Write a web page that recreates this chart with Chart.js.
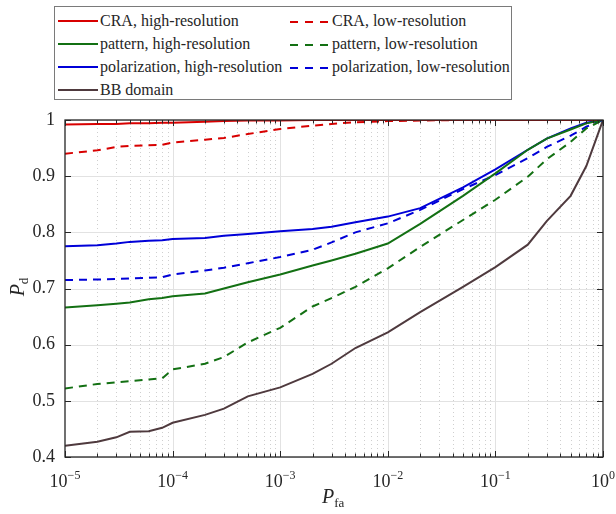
<!DOCTYPE html>
<html><head><meta charset="utf-8">
<script src="https://cdn.jsdelivr.net/npm/chart.js@4/dist/chart.umd.min.js"></script>
<style>
html,body{margin:0;padding:0;background:#fff;}
#wrap{position:relative;width:616px;height:514px;font-family:"Liberation Serif","Times New Roman",serif;color:#262626;}
#legend{position:absolute;left:54px;top:6px;width:456px;height:92px;border:1.5px solid #7a7a7a;background:#fff;}
.item{position:absolute;font-size:16px;line-height:18px;white-space:nowrap;font-family:"Liberation Serif",serif;}
.sample{position:absolute;top:8px;width:40px;height:0;border-top-width:2px;}
.txt{position:absolute;left:42px;top:0;}
.ylab{position:absolute;left:4px;top:274px;transform:rotate(-90deg);transform-origin:center;font-size:20px;width:30px;text-align:center;}
.xlab{position:absolute;left:322px;top:485px;font-size:20px;}
i{font-style:italic;}
sub{font-size:13px;vertical-align:-4px;font-style:normal;}
</style></head>
<body>
<div id="wrap">
<canvas id="c" width="616" height="514"></canvas>
<div id="legend"></div>
<div class="ylab"><i>P</i><sub>d</sub></div>
<div class="xlab"><i>P</i><sub>fa</sub></div>
</div>
<script>
const pfa = [1e-5,2e-5,3e-5,4e-5,6e-5,8e-5,1e-4,2e-4,3e-4,5e-4,1e-3,2e-3,3e-3,5e-3,1e-2,2e-2,5e-2,1e-1,2e-1,3e-1,5e-1,7e-1,1];
const craHigh = [0.992,0.993,0.993,0.994,0.994,0.995,0.995,0.997,0.998,0.999,0.999,1,1,1,1,1,1,1,1,1,1,1,1];
const craLow = [0.940,0.946,0.952,0.954,0.955,0.956,0.960,0.965,0.968,0.975,0.984,0.990,0.993,0.996,0.998,0.999,1,1,1,1,1,1,1];
const patHigh = [0.666,0.670,0.673,0.675,0.681,0.683,0.686,0.691,0.700,0.711,0.725,0.741,0.750,0.762,0.780,0.815,0.865,0.905,0.947,0.967,0.983,0.994,1.0];
const patLow = [0.522,0.530,0.533,0.535,0.538,0.540,0.556,0.566,0.578,0.604,0.630,0.668,0.683,0.703,0.736,0.774,0.822,0.858,0.899,0.930,0.961,0.985,1.0];
const polHigh = [0.775,0.777,0.780,0.783,0.785,0.786,0.788,0.790,0.794,0.797,0.802,0.806,0.810,0.818,0.828,0.843,0.880,0.912,0.947,0.967,0.985,0.995,1.0];
const polLow = [0.715,0.716,0.717,0.718,0.719,0.720,0.725,0.732,0.737,0.745,0.756,0.769,0.782,0.800,0.816,0.840,0.877,0.902,0.932,0.952,0.972,0.988,1.0];
const bbDomain = [0.420,0.427,0.435,0.445,0.446,0.452,0.461,0.475,0.486,0.508,0.524,0.548,0.566,0.594,0.622,0.658,0.703,0.738,0.778,0.820,0.865,0.918,1.0];
const yTicks = [0.4,0.5,0.6,0.7,0.8,0.9,1];
const xExponents = [-5,-4,-3,-2,-1,0];

const RED='#d80000', GREEN='#137013', BLUE='#0000d8', BROWN='#4f3a3e';
const FONT='"Liberation Serif", "Times New Roman", serif';
const series = [
  {label:'CRA, high-resolution', data:craHigh, color:RED, dash:[]},
  {label:'CRA, low-resolution', data:craLow, color:RED, dash:[8,6]},
  {label:'pattern, high-resolution', data:patHigh, color:GREEN, dash:[]},
  {label:'pattern, low-resolution', data:patLow, color:GREEN, dash:[8,6]},
  {label:'polarization, high-resolution', data:polHigh, color:BLUE, dash:[]},
  {label:'polarization, low-resolution', data:polLow, color:BLUE, dash:[8,6]},
  {label:'BB domain', data:bbDomain, color:BROWN, dash:[]}
];

// legend
const lg = document.getElementById('legend');
const pos = [[0,0],[1,0],[0,1],[1,1],[0,2],[1,2],[0,3]];
series.forEach((s,i)=>{
  const d=document.createElement('div');d.className='item';
  d.style.left=(pos[i][0]?235:3)+'px';d.style.top=(5+pos[i][1]*23)+'px';
  const sm=document.createElement('div');sm.className='sample';
  sm.style.borderTopColor=s.color;sm.style.borderTopStyle='solid';
  if(s.dash.length){sm.style.borderTop='none';sm.style.height='2px';sm.style.top='9px';sm.style.background=`repeating-linear-gradient(90deg,${s.color} 0 8px,transparent 8px 15px)`;sm.style.width='40px';}
  d.appendChild(sm);
  const t=document.createElement('span');t.className='txt';t.textContent=s.label;d.appendChild(t);
  lg.appendChild(d);
});

const framePlugin = {
  id:'frame',
  beforeDraw(chart){
    const ctx=chart.ctx; ctx.save(); ctx.fillStyle='#fff'; ctx.fillRect(0,0,chart.width,chart.height); ctx.restore();
  },
  beforeDatasetsDraw(chart){
    const ctx=chart.ctx, a=chart.chartArea, xs=chart.scales.x, ys=chart.scales.y;
    ctx.save();
    ctx.lineWidth=1;
    ctx.strokeStyle='#cfcfcf'; ctx.setLineDash([1,3]);
    for(let e=-5;e<0;e++){for(let k=2;k<=9;k++){const px=Math.round(xs.getPixelForValue(k*Math.pow(10,e)))+0.5;ctx.beginPath();ctx.moveTo(px,a.top);ctx.lineTo(px,a.bottom);ctx.stroke();}}
    ctx.setLineDash([]);
    ctx.strokeStyle='#e2e2e2';
    for(let e=-4;e<0;e++){const px=Math.round(xs.getPixelForValue(Math.pow(10,e)))+0.5;ctx.beginPath();ctx.moveTo(px,a.top);ctx.lineTo(px,a.bottom);ctx.stroke();}
    yTicks.forEach(v=>{const py=Math.round(ys.getPixelForValue(v))+0.5;ctx.beginPath();ctx.moveTo(a.left,py);ctx.lineTo(a.right,py);ctx.stroke();});
    ctx.restore();
  },
  afterDatasetsDraw(chart){
    const ctx=chart.ctx, a=chart.chartArea, xs=chart.scales.x, ys=chart.scales.y;
    ctx.save();
    ctx.strokeStyle='#262626'; ctx.lineWidth=1.3;
    ctx.strokeRect(a.left,a.top,a.right-a.left,a.bottom-a.top);
    ctx.lineWidth=1;
    for(let e=-5;e<=0;e++){for(let k=1;k<=9;k++){const v=k*Math.pow(10,e); if(v>1)break;
      const px=Math.round(xs.getPixelForValue(v))+0.5; const L=k===1?6:3.5;
      ctx.beginPath();ctx.moveTo(px,a.bottom);ctx.lineTo(px,a.bottom-L);ctx.moveTo(px,a.top);ctx.lineTo(px,a.top+L);ctx.stroke();}}
    yTicks.forEach(v=>{const py=Math.round(ys.getPixelForValue(v))+0.5;ctx.beginPath();ctx.moveTo(a.left,py);ctx.lineTo(a.left+6,py);ctx.moveTo(a.right,py);ctx.lineTo(a.right-6,py);ctx.stroke();});
    ctx.restore();
  },
  afterDraw(chart){
    // x tick labels: 10 with raised exponent, centred on the tick
    const ctx=chart.ctx, xs=chart.scales.x;
    ctx.save();
    ctx.fillStyle='#262626'; ctx.textBaseline='alphabetic'; ctx.textAlign='left';
    xExponents.forEach(e=>{
      const px=xs.getPixelForValue(Math.pow(10,e));
      const base='10', ex=String(e).replace('-','\u2212');
      ctx.font='18px '+FONT; const wb=ctx.measureText(base).width;
      ctx.font='12px '+FONT; const we=ctx.measureText(ex).width;
      const x0=px-(wb+we)/2;
      ctx.font='18px '+FONT; ctx.fillText(base,x0,487);
      ctx.font='12px '+FONT; ctx.fillText(ex,x0+wb,479);
    });
    ctx.restore();
  }
};

new Chart(document.getElementById('c'),{
  type:'line',
  data:{datasets:series.map(s=>({label:s.label,data:pfa.map((x,i)=>({x:x,y:s.data[i]})),borderColor:s.color,backgroundColor:s.color,borderDash:s.dash,borderWidth:2,pointRadius:0,tension:0,fill:false}))},
  options:{
    responsive:false,animation:false,
    layout:{padding:{top:120,right:13,left:0,bottom:0}},
    plugins:{legend:{display:false},tooltip:{enabled:false}},
    scales:{
      x:{type:'logarithmic',min:1e-5,max:1,
        grid:{display:false,drawTicks:false},border:{display:false},
        afterBuildTicks(s){s.ticks=xExponents.map(e=>({value:Math.pow(10,e)}));},
        ticks:{display:false},
        afterFit(s){s.height=57;s.paddingRight=0;s.paddingLeft=0;}
      },
      y:{type:'linear',min:0.4,max:1,
        grid:{display:false,drawTicks:false},border:{display:false},
        afterBuildTicks(s){s.ticks=yTicks.map(v=>({value:v}));},
        ticks:{padding:10,color:'#262626',font:{family:FONT,size:18},callback:(v)=>v===1?'1':v.toFixed(1)},
        afterFit(s){s.width=65;s.paddingTop=0;s.paddingBottom=0;}
      }
    }
  },
  plugins:[framePlugin]
});
</script>
</body></html>
